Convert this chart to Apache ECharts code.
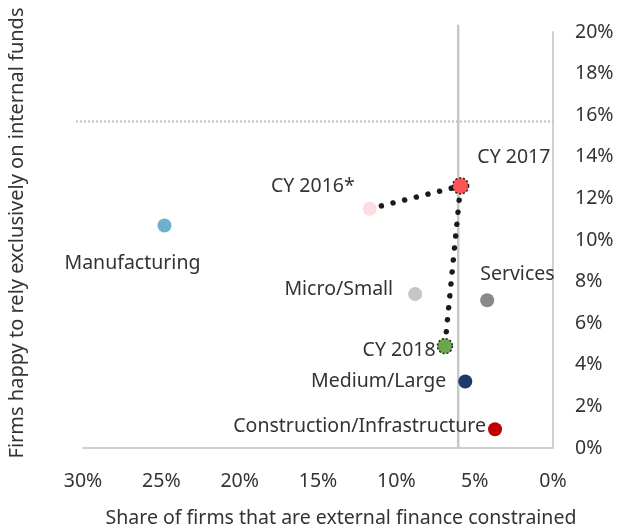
<!DOCTYPE html>
<html>
<head>
<meta charset="utf-8">
<script src="https://cdn.jsdelivr.net/npm/echarts@6/dist/echarts.min.js"></script>
<style>html,body{margin:0;padding:0;background:#fff}#c{width:617px;height:527px}</style>
</head>
<body>
<div id="c"></div>
<script>
// ---- data ----
const categories = ['CY 2016*', 'CY 2017', 'CY 2018', 'Manufacturing', 'Micro/Small', 'Services', 'Medium/Large', 'Construction/Infrastructure'];
const xValues = [11.7, 5.9, 6.9, 24.8, 8.8, 4.2, 5.6, 3.7];   // share external finance constrained (%)
const yValues = [11.5, 12.6, 4.9, 10.7, 7.4, 7.1, 3.2, 0.9];  // happy to rely on internal funds (%)
const trendNames = ['CY 2016*', 'CY 2017', 'CY 2018'];
const refX = 6.05;   // vertical reference line
const refY = 15.7;   // horizontal reference line
const xTicks = [0, 5, 10, 15, 20, 25, 30];
const yTicks = [0, 2, 4, 6, 8, 10, 12, 14, 16, 18, 20];

// ---- styles ----
const FONT = 'Noto Sans';
const FS = 19.5;
const TXT = '#333333';
const style = {
  'CY 2016*': {color: '#FCDCDE', size: 14, pos: 'left', off: [-3, -22]},
  'CY 2017': {color: '#FF5454', size: 16, pos: 'right', off: [3, -28], dotted: true},
  'CY 2018': {color: '#6AA84F', size: 15, pos: 'left', off: [4, 4], dotted: true},
  'Manufacturing': {color: '#6DB1CF', size: 14, pos: 'bottom', off: [-32, 16]},
  'Micro/Small': {color: '#C6C6C6', size: 14, pos: 'left', off: [-10, -5]},
  'Services': {color: '#8A8A8A', size: 14, pos: 'right', off: [-19, -26]},
  'Medium/Large': {color: '#1C3A6B', size: 14, pos: 'left', off: [-7, 0]},
  'Construction/Infrastructure': {color: '#C00000', size: 14, pos: 'left', off: [3, -3]}
};

const pts = categories.map((n, i) => {
  const s = style[n];
  return {
    name: n,
    value: [xValues[i], yValues[i]],
    symbolSize: s.size,
    itemStyle: s.dotted ? {color: s.color, opacity: 1, borderColor: '#222', borderWidth: 1.5, borderType: [2, 2]} : {color: s.color, opacity: 1},
    label: {show: true, formatter: n, position: s.pos, distance: 5, offset: s.off,
            color: TXT, fontFamily: FONT, fontSize: FS}
  };
});
const trend = trendNames.map(n => { const i = categories.indexOf(n); return [xValues[i], yValues[i]]; });

const chart = echarts.init(document.getElementById('c'), null, {renderer: 'canvas'});
chart.setOption({
  animation: false,
  grid: {left: 83, right: 64, top: 32, bottom: 79, containLabel: false, outerBoundsMode: 'none'},
  xAxis: {
    type: 'value', min: 0, max: 30, interval: 5, inverse: true,
    axisLine: {show: true, onZero: false, lineStyle: {color: '#d0d0d0', width: 2}},
    axisTick: {show: false}, splitLine: {show: false},
    axisLabel: {formatter: v => xTicks.includes(v) ? v + '%' : '', color: TXT, fontFamily: FONT, fontSize: FS, margin: 23},
    name: 'Share of firms that are external finance constrained',
    nameLocation: 'middle', nameGap: 60,
    nameTextStyle: {color: TXT, fontFamily: FONT, fontSize: FS, padding: [0, 0, 0, 46]}
  },
  yAxis: {
    type: 'value', min: 0, max: 20, interval: 2, position: 'right',
    axisLine: {show: true, onZero: false, lineStyle: {color: '#d0d0d0', width: 2}},
    axisTick: {show: false}, splitLine: {show: false},
    axisLabel: {formatter: v => yTicks.includes(v) ? v + '%' : '', color: TXT, fontFamily: FONT, fontSize: FS, margin: 22}
  },
  series: [
    {
      type: 'line', data: trend, symbol: 'none', z: 2,
      lineStyle: {color: '#1a1a1a', width: 5.5, type: [0.01, 12], cap: 'round'}
    },
    {type: 'scatter', data: pts, z: 3}
  ]
});

// reference lines placed through the chart's own scales
const vTop = chart.convertToPixel({gridIndex: 0}, [refX, 20.35]);
const vBot = chart.convertToPixel({gridIndex: 0}, [refX, 0]);
const hL = chart.convertToPixel({gridIndex: 0}, [30.45, refY]);
const hR = chart.convertToPixel({gridIndex: 0}, [0, refY]);
chart.setOption({
  graphic: [
    {type: 'text', id: 'yname', x: 17, y: 233, rotation: Math.PI / 2,
     style: {text: 'Firms happy to rely exclusively on internal funds', fill: TXT,
             font: '20px "Noto Sans"', align: 'center', verticalAlign: 'middle'}},
    {type: 'line', id: 'vref', z: 1, shape: {x1: vTop[0], y1: vTop[1], x2: vBot[0], y2: vBot[1]},
     style: {stroke: '#c8c8c8', lineWidth: 2.5}},
    {type: 'line', id: 'href', z: 1, shape: {x1: hL[0], y1: hL[1], x2: hR[0], y2: hR[1]},
     style: {stroke: '#bdbdbd', lineWidth: 2, lineDash: [2, 2]}}
  ]
});
</script>
</body>
</html>
